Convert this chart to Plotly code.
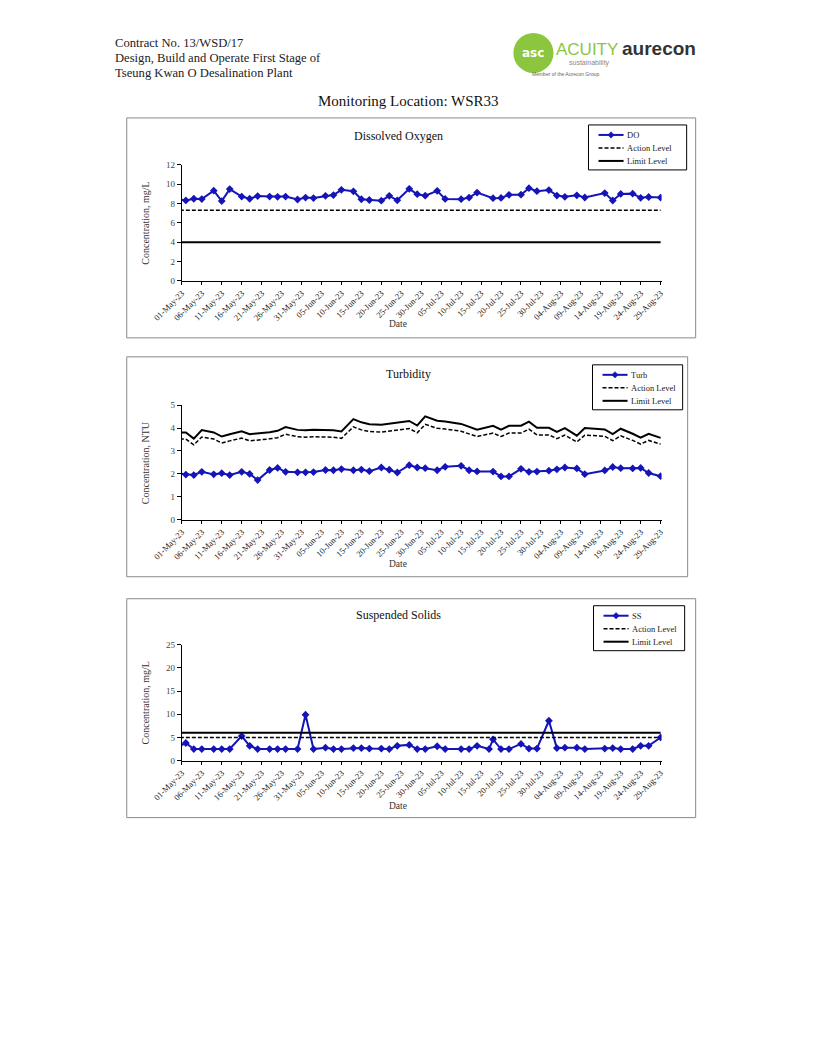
import plotly.graph_objects as go

# ---------------- data ----------------
dates = ["2023-04-29",
         "2023-05-02", "2023-05-04", "2023-05-06", "2023-05-09", "2023-05-11", "2023-05-13",
         "2023-05-16", "2023-05-18", "2023-05-20", "2023-05-23", "2023-05-25", "2023-05-27",
         "2023-05-30", "2023-06-01", "2023-06-03", "2023-06-06", "2023-06-08", "2023-06-10",
         "2023-06-13", "2023-06-15", "2023-06-17", "2023-06-20", "2023-06-22", "2023-06-24",
         "2023-06-27", "2023-06-29", "2023-07-01", "2023-07-04", "2023-07-06", "2023-07-10",
         "2023-07-12", "2023-07-14", "2023-07-18", "2023-07-20", "2023-07-22", "2023-07-25",
         "2023-07-27", "2023-07-29", "2023-08-01", "2023-08-03", "2023-08-05", "2023-08-08",
         "2023-08-10", "2023-08-15", "2023-08-17", "2023-08-19", "2023-08-22", "2023-08-24",
         "2023-08-26", "2023-08-29"]

do_values = [8.50,
             8.33, 8.50, 8.47, 9.34, 8.26, 9.50, 8.73, 8.50, 8.78, 8.72, 8.70, 8.72,
             8.42, 8.62, 8.57, 8.80, 8.88, 9.42, 9.27, 8.45, 8.37, 8.30, 8.80, 8.34,
             9.53, 8.97, 8.82, 9.32, 8.48, 8.46, 8.62, 9.14, 8.56, 8.58, 8.91, 8.92,
             9.59, 9.28, 9.40, 8.83, 8.70, 8.85, 8.63, 9.09, 8.32, 9.00, 9.03, 8.60,
             8.68, 8.62]
do_action = 7.3
do_limit = 4.0

turb_values = [2.03,
               1.97, 1.95, 2.09, 1.98, 2.03, 1.95, 2.09, 2.00, 1.73, 2.17, 2.26, 2.09,
               2.07, 2.07, 2.08, 2.17, 2.16, 2.21, 2.16, 2.19, 2.12, 2.28, 2.18, 2.06,
               2.38, 2.28, 2.25, 2.16, 2.31, 2.35, 2.16, 2.11, 2.10, 1.89, 1.89, 2.22,
               2.09, 2.10, 2.14, 2.20, 2.28, 2.24, 1.99, 2.15, 2.30, 2.25, 2.24, 2.26,
               2.04, 1.90]
turb_action = [3.52,
               3.52, 3.27, 3.61, 3.52, 3.35, 3.44, 3.56, 3.44, 3.47, 3.53, 3.58, 3.73,
               3.62, 3.60, 3.62, 3.62, 3.60, 3.55, 4.05, 3.92, 3.85, 3.82, 3.87, 3.90,
               3.98, 3.79, 4.16, 3.99, 3.96, 3.86, 3.74, 3.63, 3.78, 3.63, 3.78, 3.78,
               3.95, 3.70, 3.70, 3.54, 3.69, 3.39, 3.69, 3.64, 3.45, 3.66, 3.46, 3.30,
               3.46, 3.30]
turb_limit = [3.81,
              3.81, 3.54, 3.91, 3.81, 3.63, 3.73, 3.86, 3.73, 3.76, 3.82, 3.88, 4.04,
              3.92, 3.90, 3.92, 3.92, 3.90, 3.85, 4.39, 4.25, 4.17, 4.14, 4.19, 4.23,
              4.31, 4.11, 4.51, 4.32, 4.29, 4.18, 4.05, 3.93, 4.10, 3.93, 4.10, 4.10,
              4.28, 4.01, 4.01, 3.83, 4.00, 3.67, 4.00, 3.94, 3.74, 3.97, 3.75, 3.58,
              3.75, 3.57]

ss_dates = ["2023-04-29",
            "2023-05-02", "2023-05-04", "2023-05-06", "2023-05-09", "2023-05-11", "2023-05-13",
            "2023-05-16", "2023-05-18", "2023-05-20", "2023-05-23", "2023-05-25", "2023-05-27",
            "2023-05-30", "2023-06-01", "2023-06-03", "2023-06-06", "2023-06-08", "2023-06-10",
            "2023-06-13", "2023-06-15", "2023-06-17", "2023-06-20", "2023-06-22", "2023-06-24",
            "2023-06-27", "2023-06-29", "2023-07-01", "2023-07-04", "2023-07-06", "2023-07-10",
            "2023-07-12", "2023-07-14", "2023-07-17", "2023-07-18", "2023-07-20", "2023-07-22",
            "2023-07-25", "2023-07-27", "2023-07-29", "2023-08-01", "2023-08-03", "2023-08-05",
            "2023-08-08", "2023-08-10", "2023-08-15", "2023-08-17", "2023-08-19", "2023-08-22",
            "2023-08-24", "2023-08-26", "2023-08-29"]
ss_values = [2.5,
             3.8, 2.5, 2.5, 2.5, 2.5, 2.5, 5.3, 3.2, 2.5, 2.5, 2.5, 2.5,
             2.5, 9.9, 2.5, 2.8, 2.5, 2.5, 2.7, 2.7, 2.6, 2.6, 2.5, 3.2,
             3.4, 2.5, 2.5, 3.1, 2.5, 2.5, 2.5, 3.2, 2.5, 4.6, 2.5, 2.5,
             3.6, 2.6, 2.6, 8.6, 2.7, 2.8, 2.8, 2.5, 2.6, 2.7, 2.5, 2.5,
             3.2, 3.2, 5.0]
ss_action = 5.0
ss_limit = 6.0

x_range = ["2023-05-01", "2023-08-29 06:00"]
tick_start = "2023-05-01"

# ---------------- layout helpers ----------------
W, H = 816, 1056
# the photographed page maps figure pixels slightly; positions below are page pixels
SX, OX = 0.958, 38.4
SY, OY = 0.991, 12.0


def fx(xr):
    return ((xr - OX) / SX) / W


def fy(yr):
    return 1 - ((yr - OY) / SY) / H


SERIF = "Liberation Serif, Times New Roman, serif"
BLUE = "#1414b8"

fig = go.Figure()

charts = [
    dict(ax="", top=164, bot=280, box=(127, 117, 695, 337), leg=(588, 124, 686, 169),
         title="Dissolved Oxygen", tx=398, ty=135, ytitle="Concentration, mg/L",
         yr=[0, 12], dt=2, datey=323),
    dict(ax="2", top=404.3, bot=519, box=(127, 356, 687, 576), leg=(592, 364, 682, 409),
         title="Turbidity", tx=408, ty=373, ytitle="Concentration, NTU",
         yr=[0, 5], dt=1, datey=563),
    dict(ax="3", top=644, bot=760, box=(127, 598, 695, 817), leg=(593, 605, 684, 650),
         title="Suspended Solids", tx=398, ty=614, ytitle="Concentration, mg/L",
         yr=[0, 25], dt=5, datey=805),
]

series = [
    [("DO", dates, do_values, "main"),
     ("Action Level", dates, [do_action] * len(dates), "action"),
     ("Limit Level", dates, [do_limit] * len(dates), "limit")],
    [("Turb", dates, turb_values, "main"),
     ("Action Level", dates, turb_action, "action"),
     ("Limit Level", dates, turb_limit, "limit")],
    [("SS", ss_dates, ss_values, "main"),
     ("Action Level", ss_dates, [ss_action] * len(ss_dates), "action"),
     ("Limit Level", ss_dates, [ss_limit] * len(ss_dates), "limit")],
]

styles = {
    "main": dict(line=dict(color=BLUE, width=2)),
    "action": dict(line=dict(color="black", width=1.5, dash="4px,2px")),
    "limit": dict(line=dict(color="black", width=2)),
}

shapes = []
annotations = []
layout_axes = {}
PLOT_L, PLOT_R = 182, 661

for c, ser in zip(charts, series):
    xa = "x" + c["ax"]
    ya = "y" + c["ax"]
    for name, xs, ys, kind in ser:
        if kind == "main":
            tr = go.Scatter(x=xs, y=ys, name=name, mode="lines+markers",
                            line=dict(color=BLUE, width=2),
                            marker=dict(symbol="diamond", size=6, color=BLUE))
        else:
            tr = go.Scatter(x=xs, y=ys, name=name, mode="lines", line=styles[kind]["line"])
        tr.update(xaxis=xa, yaxis=ya, showlegend=False)
        fig.add_trace(tr)

    layout_axes["xaxis" + c["ax"]] = dict(
        domain=[fx(PLOT_L), fx(PLOT_R)], anchor=ya, type="date",
        range=x_range, tick0=tick_start, dtick=5 * 86400000, tickformat="%d-%b-%y",
        tickangle=-45, ticks="outside", ticklen=3, tickcolor="black",
        showline=True, linecolor="black", linewidth=1, showgrid=False, zeroline=False,
        tickfont=dict(family=SERIF, size=8.6, color="#222"))
    layout_axes["yaxis" + c["ax"]] = dict(
        domain=[fy(c["bot"]), fy(c["top"])], anchor=xa, range=c["yr"], dtick=c["dt"],
        ticks="outside", ticklen=4, tickcolor="black",
        showline=True, linecolor="black", linewidth=1, showgrid=False, zeroline=False,
        tickfont=dict(family=SERIF, size=9, color="#444"))

    # chart frame
    x0, y0, x1, y1 = c["box"]
    shapes.append(dict(type="rect", xref="paper", yref="paper",
                       x0=fx(x0), x1=fx(x1), y0=fy(y1), y1=fy(y0),
                       line=dict(color="#8a8a8a", width=1), layer="below"))
    # titles
    annotations.append(dict(text=c["title"], x=fx(c["tx"]), y=fy(c["ty"]), xref="paper",
                            yref="paper", xanchor="center", yanchor="middle", showarrow=False,
                            font=dict(family=SERIF, size=12, color="#111")))
    annotations.append(dict(text=c["ytitle"], x=fx(146), y=fy((c["top"] + c["bot"]) / 2),
                            xref="paper", yref="paper", xanchor="center", yanchor="middle",
                            showarrow=False, textangle=-90,
                            font=dict(family=SERIF, size=10, color="#333")))
    annotations.append(dict(text="Date", x=fx(398), y=fy(c["datey"]), xref="paper",
                            yref="paper", xanchor="center", yanchor="middle", showarrow=False,
                            font=dict(family=SERIF, size=9.5, color="#333")))

    # legend box (drawn)
    l, t, r, b = c["leg"]
    shapes.append(dict(type="rect", xref="paper", yref="paper",
                       x0=fx(l), x1=fx(r), y0=fy(b), y1=fy(t),
                       line=dict(color="black", width=1), fillcolor="white"))
    for i, (name, _, _, kind) in enumerate(ser):
        ry = t + 10 + 13 * i
        ln = dict(styles[kind]["line"])
        shapes.append(dict(type="line", xref="paper", yref="paper",
                           x0=fx(l + 10), x1=fx(l + 35), y0=fy(ry), y1=fy(ry), line=ln))
        if kind == "main":
            cx, d = l + 22.5, 3.2
            path = "M {} {} L {} {} L {} {} L {} {} Z".format(
                fx(cx), fy(ry - d), fx(cx + d), fy(ry), fx(cx), fy(ry + d), fx(cx - d), fy(ry))
            shapes.append(dict(type="path", xref="paper", yref="paper", path=path,
                               fillcolor=BLUE, line=dict(color=BLUE, width=0.5)))
        annotations.append(dict(text=name, x=fx(l + 36), y=fy(ry), xref="paper", yref="paper",
                                xanchor="left", yanchor="middle", showarrow=False,
                                font=dict(family=SERIF, size=8.5, color="#222")))

# header text
for i, line in enumerate(["Contract No. 13/WSD/17",
                          "Design, Build and Operate First Stage of",
                          "Tseung Kwan O Desalination Plant"]):
    annotations.append(dict(text=line, x=fx(113), y=fy(42 + 15 * i), xref="paper", yref="paper",
                            xanchor="left", yanchor="middle", showarrow=False,
                            font=dict(family=SERIF, size=12.6, color="#222")))
annotations.append(dict(text="Monitoring Location: WSR33", x=fx(408), y=fy(100), xref="paper",
                        yref="paper", xanchor="center", yanchor="middle", showarrow=False,
                        font=dict(family=SERIF, size=15, color="#111")))

# logos
shapes.append(dict(type="circle", xref="paper", yref="paper",
                   x0=fx(513), x1=fx(553), y0=fy(72), y1=fy(32),
                   fillcolor="#8cc63f", line=dict(width=0)))
annotations += [
    dict(text="<b>asc</b>", x=fx(533), y=fy(52), xref="paper", yref="paper", showarrow=False,
         xanchor="center", yanchor="middle",
         font=dict(family="DejaVu Sans", size=12, color="white")),
    dict(text="ACUITY", x=fx(554), y=fy(49), xref="paper", yref="paper", showarrow=False,
         xanchor="left", yanchor="middle",
         font=dict(family="Liberation Sans", size=17, color="#8cc63f")),
    dict(text="sustainability", x=fx(611), y=fy(62), xref="paper", yref="paper",
         showarrow=False, xanchor="right", yanchor="middle",
         font=dict(family="Liberation Sans", size=7, color="#888")),
    dict(text="Member of the Aurecon Group", x=fx(565), y=fy(73), xref="paper", yref="paper",
         showarrow=False, xanchor="center", yanchor="middle",
         font=dict(family="Liberation Sans", size=5, color="#666")),
    dict(text="<b>aurecon</b>", x=fx(697), y=fy(48), xref="paper", yref="paper",
         showarrow=False, xanchor="right", yanchor="middle",
         font=dict(family="Liberation Sans", size=19, color="#333")),
]

fig.update_layout(width=W, height=H, margin=dict(l=0, r=0, t=0, b=0),
                  paper_bgcolor="white", plot_bgcolor="white", showlegend=False,
                  shapes=shapes, annotations=annotations, **layout_axes)

fig.write_html("out.html")
